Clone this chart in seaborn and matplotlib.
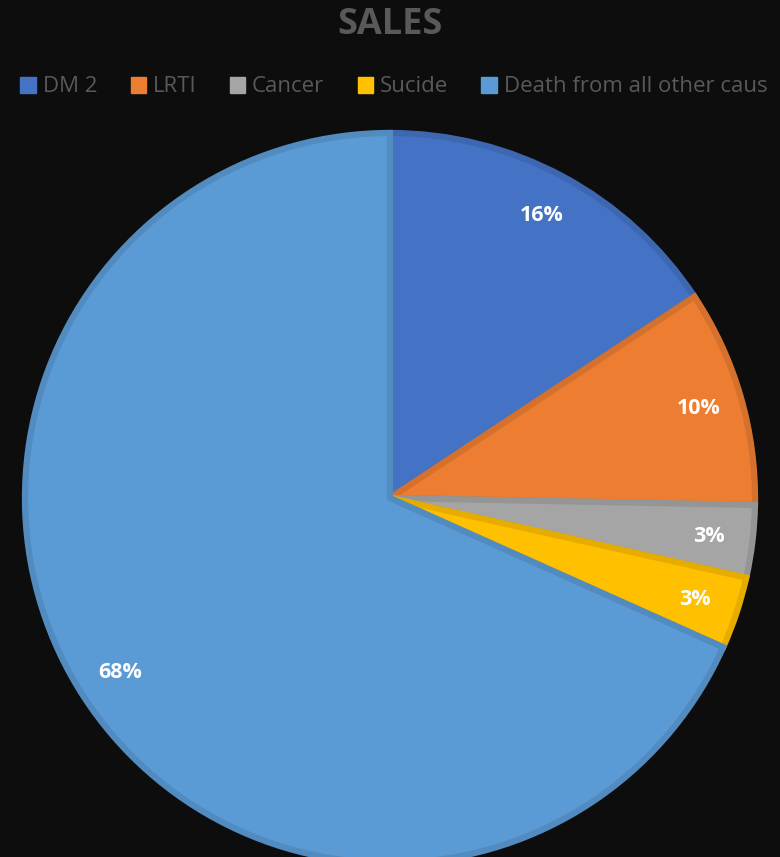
import matplotlib
matplotlib.use("Agg")
import matplotlib.pyplot as plt
import matplotlib.colors as mcolors
from matplotlib.patches import Patch
import seaborn as sns

categories = ["DM 2", "LRTI", "Cancer", "Sucide", "Death from all other caus"]
values = [15.7, 9.6, 3.2, 3.2, 68.3]
colors = ["#4472C4", "#ED7D31", "#A5A5A5", "#FFC000", "#5B9BD5"]
title = "SALES"

bg = "#0D0D0D"
grey = "#595959"

sns.set_theme(style="dark", rc={"figure.facecolor": bg, "axes.facecolor": bg,
                                "savefig.facecolor": bg})
plt.rcParams["font.family"] = ["Open Sans", "DejaVu Sans"]

W, H = 780, 857
fig = plt.figure(figsize=(W / 100, H / 100), dpi=100)

cx, cy, r = 390, 498, 365
lim = 1.05
half = r * lim
ax = fig.add_axes([(cx - half) / W, (H - cy - half) / H, 2 * half / W, 2 * half / H])
ax.set_facecolor(bg)

def darker(c, f=0.9):
    rgb = mcolors.to_rgb(c)
    return tuple(v * f for v in rgb)

wedges, texts, autotexts = ax.pie(
    values, colors=colors, startangle=90, counterclock=False,
    autopct="%1.0f%%", pctdistance=0.88, radius=1.0,
    wedgeprops=dict(linewidth=4.5),
    textprops=dict(color="white", fontsize=15.5, fontweight="bold"))
for w, c in zip(wedges, colors):
    w.set_edgecolor(darker(c))
    w.set_joinstyle("miter")
ax.set_xlim(-lim, lim)
ax.set_ylim(-lim, lim)
ax.set_aspect("auto")
ax.axis("off")

fig.text(0.5, 1 - 25 / H, title, ha="center", va="center", color=grey,
         fontsize=26, fontweight="bold")

handles = [Patch(facecolor=c, edgecolor=c) for c in colors]
leg = fig.legend(handles, categories, loc="center", bbox_to_anchor=(0.505, 1 - 87 / H),
                 ncol=5, frameon=False, fontsize=16, handlelength=0.7, handleheight=0.7,
                 handletextpad=0.3, columnspacing=1.5, labelcolor=grey)

fig.savefig("out.png", dpi=100, facecolor=bg)
